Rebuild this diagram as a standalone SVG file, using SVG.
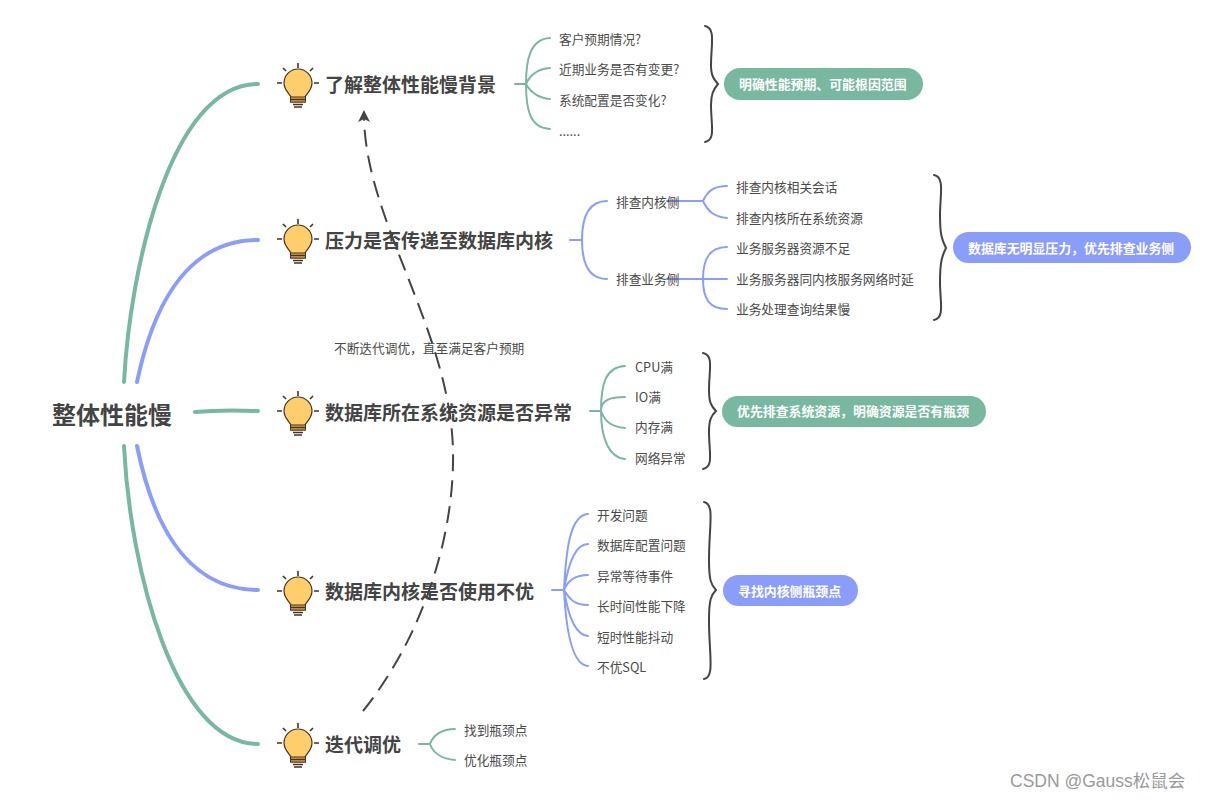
<svg xmlns="http://www.w3.org/2000/svg" width="1212" height="800" viewBox="0 0 1212 800">
<style>
text{font-family:"Noto Sans CJK SC","Noto Sans",sans-serif;fill:#444}
.root{font-size:24px;font-weight:700}
.topic{font-size:19px;font-weight:700}
.sub{font-size:12.7px;fill:#4a4a4a}
.sum{font-size:12.9px;font-weight:700;fill:#fff}
.wm{font-size:17.5px;fill:#9a9a9a;font-family:"Liberation Sans","Noto Sans CJK SC",sans-serif}
.g,.b,.br,.gm,.bm{fill:none;stroke-linecap:round}
.gm{stroke:#79b8a0;stroke-width:4}
.bm{stroke:#8a9dfb;stroke-width:4}
.g{stroke:#79b8a0;stroke-width:2}
.b{stroke:#8a9dfb;stroke-width:2}
.br{stroke:#444;stroke-width:2}
.gf{fill:#79b8a0}.bf{fill:#8a9dfb}
</style>
<defs>
<g id="bulb">
<path d="M-7 12C-9 8-14 5-14 -2A14 14 0 0 1 14 -2C14 5 9 8 7 12V17H-7Z" fill="#fecd6c" stroke="#443322" stroke-width="1.2" transform="translate(0,2)"/>
<rect x="-7.500" y="14" width="15" height="5" fill="#e0a84f" stroke="#443322" stroke-width="1"/>
<path d="M-7 16.500H7M-5 21.500H5M-4 24H4" stroke="#443322" stroke-width="1.500" fill="none"/>
<path d="M0 -20V-15M-15 -15L-12 -12M15 -15L12 -12M-21 0H-16M21 0H16" stroke="#443322" stroke-width="1.600" fill="none"/>
</g>
<marker id="ah" markerUnits="userSpaceOnUse" markerWidth="14" markerHeight="14" refX="6" refY="6" orient="auto"><path d="M0 0L12 6L0 12L3 6Z" fill="#444"/></marker>
</defs>
<g id="connectors">
<path class="gm" d="M124 382C130 270 170 84 258 84"/>
<path class="bm" d="M137 382C150 320 180 240 258 240"/>
<path class="gm" d="M195 412C215 410 235 410 258 411"/>
<path class="bm" d="M137 446C150 510 180 590 258 590"/>
<path class="gm" d="M124 446C130 570 175 744 258 744"/>
<path d="M363 711C420 640 455 540 453 450C450 330 365 220 364 116" fill="none" stroke="#444" stroke-width="2" stroke-dasharray="17 9" marker-end="url(#ah)"/>
<path class="g" d="M515 84H526M526 84C526 60 530 39 550 38M526 84C530 75 538 69 550 68M526 84C530 91 538 98 550 99M526 84C526 110 530 128 550 129"/>
<path class="b" d="M570 240H582M582 240C582 215 590 201 607 201M582 240C582 265 590 279 607 279"/>
<path class="b" d="M667 201H703M676 201H676M677 201C685 201 692 201 703 201M676 201H703M703 201C708 190 715 186 727 186M703 201C708 212 715 217 727 218"/>
<path class="b" d="M667 279H727M703 279C703 258 710 247 727 247M703 279C703 300 710 309 727 309"/>
<path class="g" d="M590 411H601M601 411C601 385 605 367 625 366M601 411C601 400 610 397 625 397M601 411C605 422 612 427 625 428M601 411C601 440 610 458 625 459"/>
<path class="b" d="M552 590H564M564 590C566 550 570 515 588 514M564 590C568 565 575 544 588 544M564 590C568 580 575 575 588 575M564 590C570 600 575 605 588 605M564 590C568 615 575 635 588 636M564 590C566 630 572 665 588 666"/>
<path class="g" d="M419 744H430M430 744C433 735 442 729 455 729M430 744C433 753 442 759 455 760"/>
<path class="br" d="M705 26C716 28 711 45 711 65C711 75 713 78 718 84C713 90 711 95 711 105C711 125 716 140 705 142"/>
<path class="br" d="M934 175C945 177 940 195 940 215C940 235 942 240 946 248C942 256 940 262 940 282C940 302 945 318 934 320"/>
<path class="br" d="M703 353C714 355 709 370 709 390C709 402 711 406 716 411C711 416 709 420 709 432C709 452 714 467 703 469"/>
<path class="br" d="M704 502C715 504 709 525 709 560C709 580 711 585 716 590C711 595 709 600 709 620C709 655 715 677 704 679"/>
</g>
<g id="root"><text class="root" x="52" y="424">整体性能慢</text></g>
<g id="n1"><use href="#bulb" x="298" y="83"/><text class="topic" x="325" y="92">了解整体性能慢背景</text></g>
<g id="n2"><use href="#bulb" x="298" y="239"/><text class="topic" x="325" y="248">压力是否传递至数据库内核</text></g>
<g id="n3"><use href="#bulb" x="298" y="411"/><text class="topic" x="325" y="420">数据库所在系统资源是否异常</text></g>
<g id="n4"><use href="#bulb" x="298" y="591"/><text class="topic" x="325" y="599">数据库内核是否使用不优</text></g>
<g id="n5"><use href="#bulb" x="298" y="743"/><text class="topic" x="325" y="752">迭代调优</text></g>
<g id="n1-items">
<text class="sub" x="559" y="44">客户预期情况?</text>
<text class="sub" x="559" y="74">近期业务是否有变更?</text>
<text class="sub" x="559" y="105">系统配置是否变化?</text>
<text class="sub" x="559" y="136">......</text>
</g>
<g id="n2-items">
<text class="sub" x="616" y="207">排查内核侧</text>
<text class="sub" x="616" y="284">排查业务侧</text>
<text class="sub" x="736" y="192">排查内核相关会话</text>
<text class="sub" x="736" y="223">排查内核所在系统资源</text>
<text class="sub" x="736" y="253">业务服务器资源不足</text>
<text class="sub" x="736" y="284">业务服务器同内核服务网络时延</text>
<text class="sub" x="736" y="314">业务处理查询结果慢</text>
</g>
<g id="n3-items">
<text class="sub" x="635" y="372">CPU满</text>
<text class="sub" x="635" y="402">IO满</text>
<text class="sub" x="635" y="432">内存满</text>
<text class="sub" x="635" y="463">网络异常</text>
</g>
<g id="n4-items">
<text class="sub" x="597" y="520">开发问题</text>
<text class="sub" x="597" y="550">数据库配置问题</text>
<text class="sub" x="597" y="581">异常等待事件</text>
<text class="sub" x="597" y="611">长时间性能下降</text>
<text class="sub" x="597" y="642">短时性能抖动</text>
<text class="sub" x="597" y="672">不优SQL</text>
</g>
<g id="n5-items">
<text class="sub" x="464" y="735">找到瓶颈点</text>
<text class="sub" x="464" y="765">优化瓶颈点</text>
</g>
<g id="s1"><rect class="gf" x="724" y="68" width="199" height="32" rx="16"/><text class="sum" x="739" y="89">明确性能预期、可能根因范围</text></g>
<g id="s2"><rect class="bf" x="953" y="232" width="238" height="31" rx="15.500"/><text class="sum" x="968" y="253">数据库无明显压力，优先排查业务侧</text></g>
<g id="s3"><rect class="gf" x="722" y="396" width="264" height="31" rx="15.500"/><text class="sum" x="737" y="416">优先排查系统资源，明确资源是否有瓶颈</text></g>
<g id="s4"><rect class="bf" x="723" y="575" width="135" height="31" rx="15.500"/><text class="sum" x="738" y="596">寻找内核侧瓶颈点</text></g>
<g id="loop-label"><text class="sub" x="334" y="353">不断迭代调优，直至满足客户预期</text></g>
<text class="wm" x="1010" y="787">CSDN @Gauss松鼠会</text>
</svg>
